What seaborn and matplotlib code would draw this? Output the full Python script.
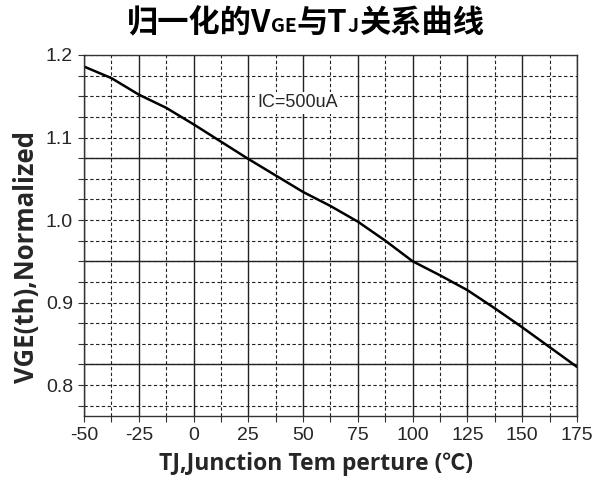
import numpy as np
import pandas as pd
import matplotlib.pyplot as plt
import seaborn as sns
from matplotlib.offsetbox import TextArea, HPacker, AnchoredOffsetbox
from matplotlib.ticker import MultipleLocator

# values
temp_c = [-50, -37.5, -25, -12.5, 0, 12.5, 25, 37.5, 50, 62.5, 75,
          87.5, 100, 112.5, 125, 137.5, 150, 162.5, 175]
vge_norm = [1.186, 1.172, 1.152, 1.136, 1.116, 1.095, 1.074, 1.054, 1.034,
            1.017, 0.998, 0.975, 0.950, 0.933, 0.915, 0.893, 0.870, 0.846, 0.822]
x_ticks = [-50, -25, 0, 25, 50, 75, 100, 125, 150, 175]
y_ticks = [0.8, 0.9, 1.0, 1.1, 1.2]
solid_h = [0.825, 0.95, 1.075]

df = pd.DataFrame({"temp": temp_c, "vge": vge_norm})

sns.set_theme(style="white")
plt.rcParams["font.family"] = ["Liberation Sans", "DejaVu Sans"]
plt.rcParams["axes.unicode_minus"] = False

fig = plt.figure(figsize=(5.97, 4.88), dpi=100)
ax = fig.add_axes([0.1407, 0.1475, 0.8258, 0.7398])

sns.lineplot(data=df, x="temp", y="vge", color="black", linewidth=1.8, ax=ax)

ax.set_xlim(-50, 175)
ax.set_ylim(0.7625, 1.2)
ax.set_xticks(x_ticks)
ax.set_yticks(y_ticks)
ax.set_yticklabels([f"{v:.1f}" for v in y_ticks])
ax.xaxis.set_minor_locator(MultipleLocator(12.5))
ax.yaxis.set_minor_locator(MultipleLocator(0.025))

grid_dash = dict(color="#222222", linewidth=0.8, linestyle=(0, (3, 2.2)))
ax.grid(axis="x", which="major", color="#222222", linewidth=1.0, linestyle="-")
ax.grid(axis="x", which="minor", **grid_dash)
ax.grid(axis="y", which="both", **grid_dash)
for yv in solid_h:
    ax.axhline(yv, color="#222222", linewidth=1.0, zorder=1.5)
ax.set_axisbelow(True)

for s in ax.spines.values():
    s.set_color("#333333")
    s.set_linewidth(1.0)

ax.tick_params(axis="both", which="both", direction="out", length=4,
               width=0.8, color="#333333", labelsize=14, pad=4)
ax.tick_params(axis="both", which="both", bottom=True, left=True)

ax.text(29, 1.142, "IC=500uA", fontsize=13, va="center", ha="left", zorder=3,
        bbox=dict(facecolor="white", edgecolor="none", pad=1.5))

label_font = ["Open Sans", "Noto Sans CJK SC", "DejaVu Sans"]
ax.set_xlabel("TJ,Junction Tem perture (℃)", fontsize=16.5, fontweight="bold",
              family=label_font)
ax.set_ylabel("VGE(th),Normalized", fontsize=18.5, fontweight="bold",
              family=label_font)
ax.xaxis.set_label_coords(0.47, -0.1)
ax.yaxis.set_label_coords(-0.09, 0.44)

# title with small "GE" and "J"
title_font = ["Noto Sans CJK SC", "DejaVu Sans"]
big = dict(fontsize=22.5, fontweight="bold", family=title_font, color="black")
small = dict(fontsize=14, fontweight="bold", family=title_font, color="black")
parts = [("归一化的V", big), ("GE", small), ("与T", big), ("J", small), ("关系曲线", big)]
box = HPacker(children=[TextArea(t, textprops=p) for t, p in parts],
              align="baseline", pad=0, sep=0)
anchored = AnchoredOffsetbox(loc="center", child=box, frameon=False,
                             bbox_to_anchor=(0.511, 0.952),
                             bbox_transform=fig.transFigure, pad=0, borderpad=0)
fig.add_artist(anchored)

fig.savefig("out.png", dpi=100)
